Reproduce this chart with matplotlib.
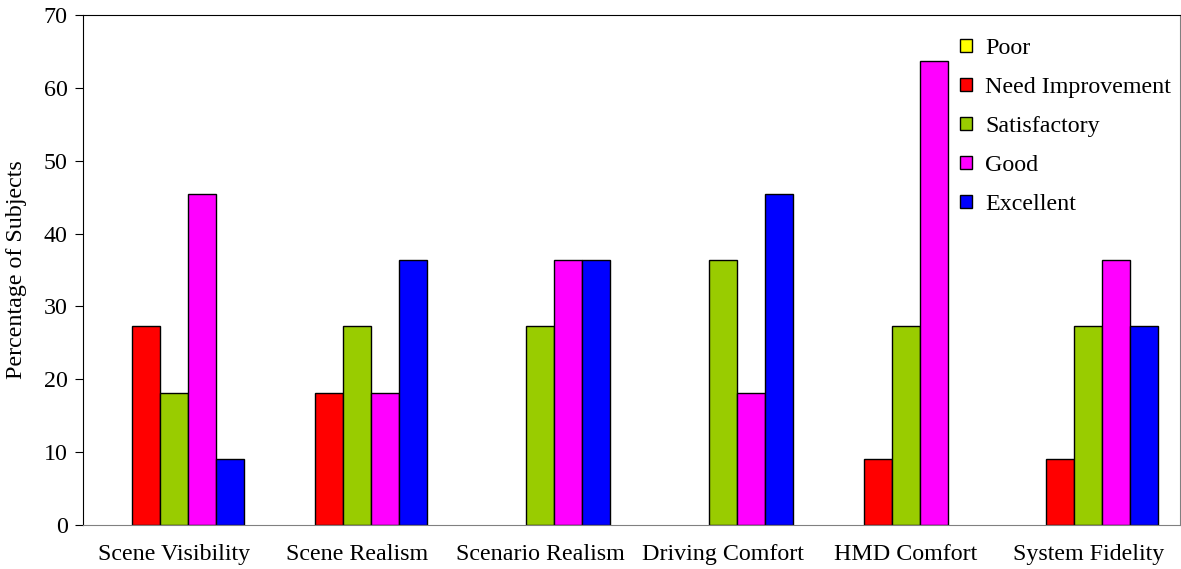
import matplotlib.pyplot as plt
import numpy as np

plt.rcParams['font.family'] = ['Liberation Serif', 'DejaVu Serif']

categories = ['Scene Visibility', 'Scene Realism', 'Scenario Realism',
              'Driving Comfort', 'HMD Comfort', 'System Fidelity']
series = ['Poor', 'Need Improvement', 'Satisfactory', 'Good', 'Excellent']
poor = [0, 0, 0, 0, 0, 0]
need_improvement = [27.27, 18.18, 0, 0, 9.09, 9.09]
satisfactory = [18.18, 27.27, 27.27, 36.36, 27.27, 27.27]
good = [45.45, 18.18, 36.36, 18.18, 63.64, 36.36]
excellent = [9.09, 36.36, 36.36, 45.45, 0, 27.27]
colors = ['#FFFF00', '#FF0000', '#99CC00', '#FF00FF', '#0000FF']

data = [poor, need_improvement, satisfactory, good, excellent]

fig = plt.figure(figsize=(11.81, 5.69), dpi=100)
ax = fig.add_axes([0.0703, 0.0773, 0.9287, 0.8963])

fs = 17.3
x = np.arange(len(categories))
w = 0.153
for i, (name, vals) in enumerate(zip(series, data)):
    # no outline on empty bars, otherwise a black stroke sits on the axis
    lw = [1.0 if v > 0 else 0 for v in vals]
    ax.bar(x + (i - 2) * w, vals, w, color=colors[i], edgecolor='black',
           linewidth=lw, label=name)

ax.set_xlim(-0.5, len(categories) - 0.5)
ax.set_ylim(0, 70)
ax.set_yticks(range(0, 71, 10))
ax.set_xticks(x)
ax.set_xticklabels(categories)
ax.tick_params(axis='x', length=0, pad=14, labelsize=fs)
ax.tick_params(axis='y', direction='out', length=6, labelsize=fs, pad=5)
ax.set_ylabel('Percentage of Subjects', fontsize=fs, labelpad=12)

ax.spines['left'].set_color('black')
ax.spines['top'].set_color('black')
ax.spines['bottom'].set_color('#808080')
ax.spines['right'].set_color('#808080')

leg = ax.legend(loc='upper left', bbox_to_anchor=(0.7995, 0.955), frameon=False,
                fontsize=fs, handlelength=0.5, handleheight=0.5,
                handletextpad=0.55, labelspacing=0.75, borderaxespad=0,
                borderpad=0)
for h in leg.legend_handles:
    h.set_linewidth(1.0)
    h.set_edgecolor('black')

fig.savefig('out.png', dpi=100)
